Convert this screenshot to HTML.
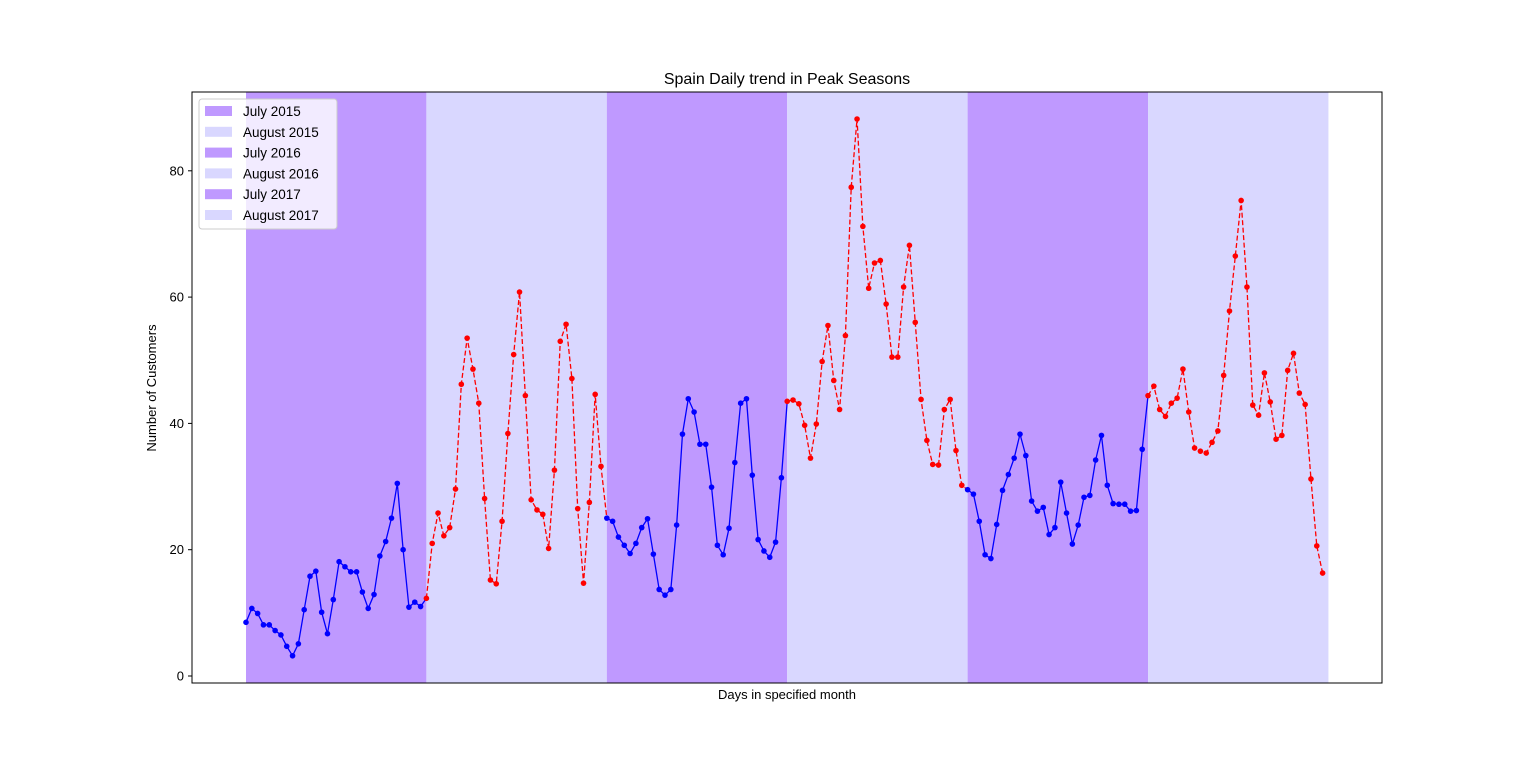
<!DOCTYPE html>
<html><head><meta charset="utf-8">
<style>
body{margin:0;background:#fff;}
svg text{font-family:"Liberation Sans","DejaVu Sans",sans-serif;}
</style></head>
<body>
<svg id="chart" width="1536" height="767" xmlns="http://www.w3.org/2000/svg">
<g id="spans"></g>
<g id="lines"></g>
<rect x="192" y="92" width="1190" height="591" fill="none" stroke="#000" stroke-width="1"/>
<g id="yticks"></g>
<text x="787" y="84" font-size="16" text-anchor="middle">Spain Daily trend in Peak Seasons</text>
<text x="787" y="699" font-size="13" text-anchor="middle">Days in specified month</text>
<text transform="translate(156,388) rotate(-90)" font-size="13" text-anchor="middle">Number of Customers</text>
<g id="legend"></g>
</svg>
<script>
const months = ["July 2015","August 2015","July 2016","August 2016","July 2017","August 2017"];
const jul2015 = [8.5,10.7,9.9,8.1,8.1,7.2,6.5,4.7,3.2,5.1,10.5,15.8,16.6,10.1,6.7,12.1,18.1,17.3,16.5,16.5,13.3,10.7,12.9,19,21.3,25,30.5,20,10.9,11.7,11];
const aug2015 = [12.3,21.0,25.8,22.2,23.5,29.6,46.2,53.5,48.6,43.2,28.1,15.2,14.6,24.5,38.4,50.9,60.8,44.4,27.9,26.3,25.6,20.2,32.6,53,55.7,47.1,26.5,14.7,27.5,44.6,33.2];
const jul2016 = [25.0,24.5,22.0,20.7,19.4,21.0,23.5,24.9,19.3,13.7,12.8,13.7,23.9,38.3,43.9,41.8,36.7,36.7,29.9,20.7,19.2,23.4,33.8,43.2,43.9,31.8,21.6,19.8,18.8,21.2,31.4];
const aug2016 = [43.5,43.7,43.1,39.7,34.5,39.9,49.8,55.5,46.8,42.2,53.9,77.4,88.2,71.2,61.4,65.4,65.8,58.9,50.5,50.5,61.6,68.2,56.0,43.8,37.3,33.5,33.4,42.2,43.8,35.7,30.2];
const jul2017 = [29.5,28.8,24.5,19.2,18.6,24.0,29.4,31.9,34.5,38.3,34.9,27.7,26.1,26.7,22.4,23.5,30.7,25.8,20.9,23.9,28.3,28.6,34.2,38.1,30.2,27.3,27.2,27.2,26.1,26.2,35.9];
const aug2017 = [44.4,45.9,42.2,41.1,43.2,44.0,48.6,41.8,36.1,35.6,35.3,37.0,38.8,47.6,57.8,66.5,75.3,61.6,42.9,41.3,48.0,43.4,37.5,38.1,48.4,51.1,44.8,43.0,31.2,20.6,16.3];
const yTicks = [0,20,40,60,80];

const NS="http://www.w3.org/2000/svg";
const series=[jul2015,aug2015,jul2016,aug2016,jul2017,aug2017];
const xScale=i=>246+i*5.8195;
const yScale=v=>676-v*6.315;
const julCol="#bf99ff", augCol="#d9d7ff";
function mk(tag,attrs,parent){const e=document.createElementNS(NS,tag);for(const k in attrs)e.setAttribute(k,attrs[k]);parent.appendChild(e);return e;}
const spans=document.getElementById('spans'),lines=document.getElementById('lines');
let offset=0;const starts=[];
series.forEach((s,k)=>{starts.push(offset);offset+=s.length;});
series.forEach((s,k)=>{
  const r=mk('rect',{x:xScale(starts[k]),y:92,width:xScale(starts[k]+s.length)-xScale(starts[k]),height:591,fill:k%2?augCol:julCol},spans);
  
  
});
series.forEach((s,k)=>{
  const col=k%2?"#ff0000":"#0000ff";
  const pts=s.map((v,i)=>[xScale(starts[k]+i),yScale(v)]);
  if(k<series.length-1){pts.push([xScale(starts[k+1]),yScale(series[k+1][0])]);}
  const attrs={points:pts.map(p=>p.join(',')).join(' '),fill:'none',stroke:col,'stroke-width':1.3};
  if(k%2)attrs['stroke-dasharray']='5,2.5';
  const pl=mk('polyline',attrs,lines);
  
  
});
series.forEach((s,k)=>{
  const col=k%2?"#ff0000":"#0000ff";
  s.forEach((v,i)=>{
    const c=mk('circle',{cx:xScale(starts[k]+i),cy:yScale(v),r:2.8,fill:col},lines);
    
    
  });
});
const yt=document.getElementById('yticks');
yTicks.forEach(t=>{
  const y=yScale(t);
  const l=mk('line',{x1:188,x2:192,y1:y,y2:y,stroke:'#000'},yt);
  
  
  const tx=mk('text',{x:184,y:y+4.5,'font-size':13,'text-anchor':'end'},yt);
  tx.textContent=t;
  
  
});
const lg=document.getElementById('legend');
mk('rect',{x:199,y:99,width:138,height:130,fill:'#fff','fill-opacity':0.8,stroke:'#ccc',rx:3},lg);
months.forEach((m,k)=>{
  const y=111+k*20.8;
  const r=mk('rect',{x:205,y:y-5,width:27,height:10,fill:k%2?augCol:julCol},lg);
  
  
  const t=mk('text',{x:243,y:y+5,'font-size':13.5},lg);
  t.textContent=m;
  
  
});
</script>
</body></html>
